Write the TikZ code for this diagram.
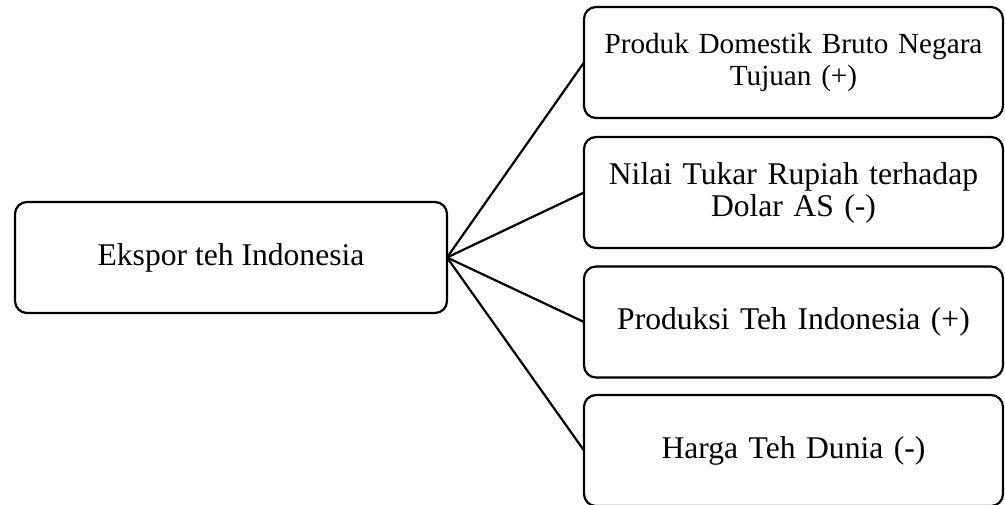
\documentclass[tikz,border=0pt]{standalone}
\usepackage{fontspec}
\setmainfont{Liberation Serif}
\begin{document}
\begin{tikzpicture}[x=1pt,y=-1pt,
  box/.style={draw=black, line width=2.2pt, rounded corners=12pt, inner sep=0pt, outer sep=0pt,
    align=center, minimum height=111pt, font=\fontsize{31.6}{32}\selectfont},
  rbox/.style={box, minimum width=419pt, text width=400pt},
  link/.style={draw=black, line width=2.2pt}]
\useasboundingbox (0,0) rectangle (1005,505);
\node[box, minimum width=432pt] (L) at (231,257.5) {Ekspor teh Indonesia};
\node[rbox, font=\fontsize{29.2}{32}\selectfont] (R1) at (793.5,62.5) {Produk Domestik Bruto Negara\\Tujuan (+)};
\node[rbox] (R2) at (793.5,192.5) {Nilai Tukar Rupiah terhadap\\Dolar AS (-)};
\node[rbox] (R3) at (793.5,322) {Produksi Teh Indonesia (+)};
\node[rbox] (R4) at (793.5,450.5) {Harga Teh Dunia (-)};
\foreach \r in {R1,R2,R3,R4} \draw[link] (L.east) -- (\r.west);
\end{tikzpicture}
\end{document}
